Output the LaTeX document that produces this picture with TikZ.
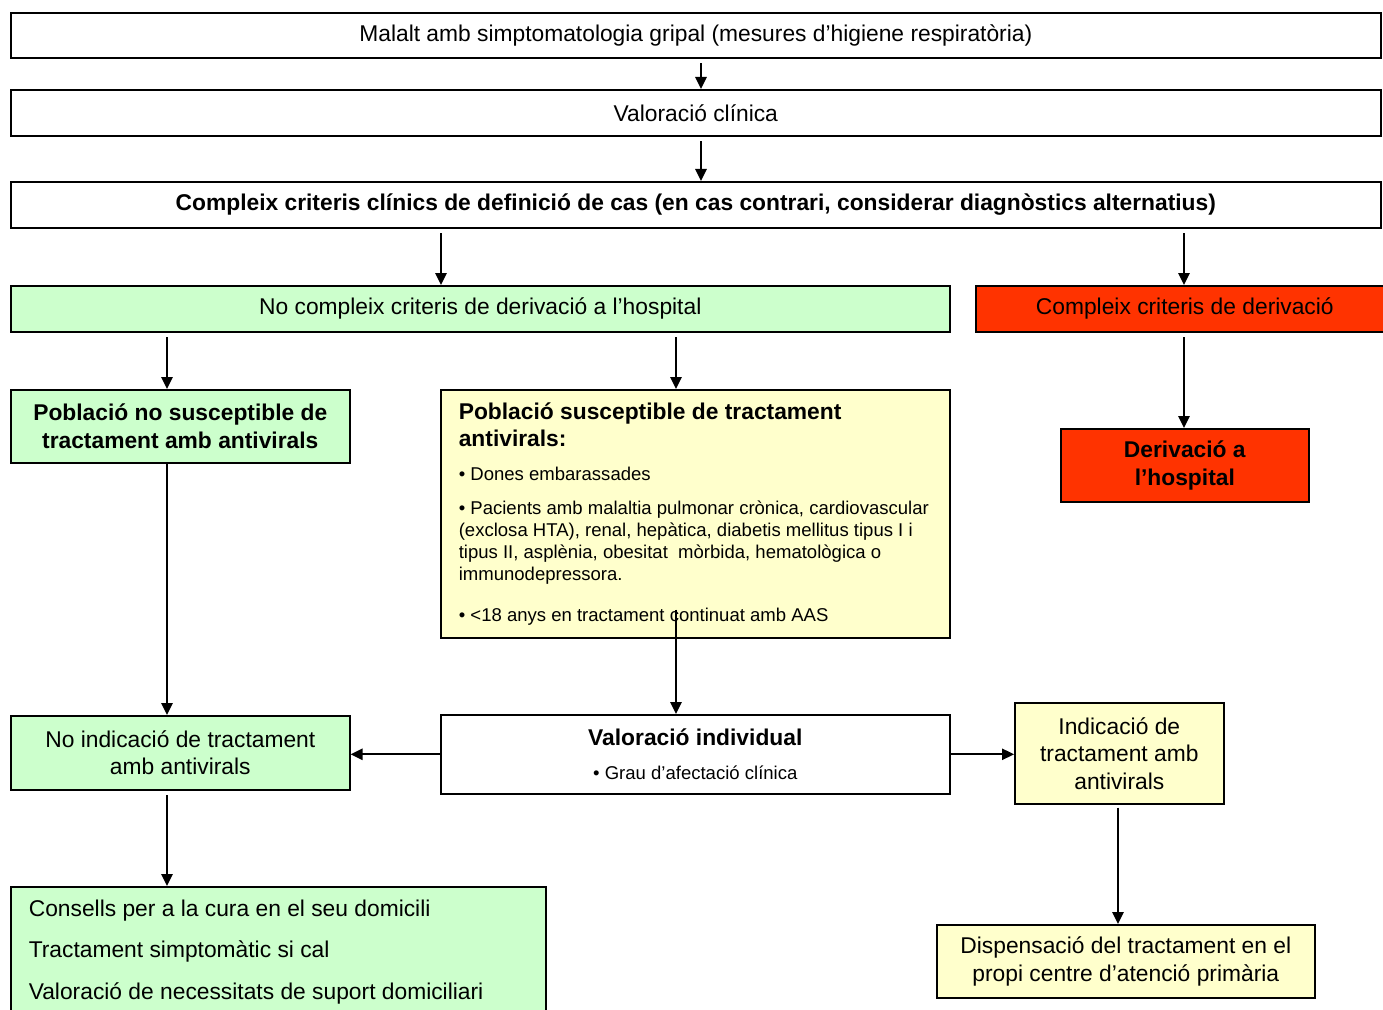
\documentclass[tikz,border=0pt]{standalone}
\usepackage{fontspec}
\setmainfont{Liberation Sans}
\usetikzlibrary{arrows.meta}
\definecolor{lgreen}{HTML}{CCFFCC}
\definecolor{lyellow}{HTML}{FFFFCC}
\definecolor{lred}{HTML}{FF3300}
\newcommand{\bigf}{\fontsize{17.1}{20.6}\selectfont}
\newcommand{\smallf}{\fontsize{13.9}{16.5}\selectfont}
\begin{document}
\begin{tikzpicture}[x=0.75pt,y=-0.75pt,
 box/.style={draw=black, line width=1.2pt, anchor=north west, inner sep=0pt, align=center, font=\bigf},
 arr/.style={line width=1.3pt, -{Triangle[length=9pt,width=8.5pt]}, shorten <=3.5pt}]
\useasboundingbox (0,0) rectangle (1383,1009);
\fill[white] (0,0) rectangle (1383,1009);

\node[box, minimum width=1027.5pt, minimum height=33.75pt] (b1) at (10,12)
  {Malalt amb simptomatologia gripal (mesures d’higiene respiratòria)};
\node[box, minimum width=1027.5pt, minimum height=34.5pt] (b2) at (10,89)
  {Valoració clínica};
\node[box, minimum width=1027.5pt, minimum height=34.5pt, font=\bigf\bfseries] (b3) at (10,181)
  {Compleix criteris clínics de definició de cas (en cas contrari, considerar diagnòstics alternatius)};
\node[box, fill=lgreen, minimum width=704.25pt, minimum height=34.5pt] (b4) at (10,285)
  {No compleix criteris de derivació a l’hospital};
\node[box, fill=lred, minimum width=313.5pt, minimum height=34.5pt] (b5) at (975,285)
  {Compleix criteris de derivació};
\node[box, fill=lgreen, minimum width=254.25pt, minimum height=54.75pt, font=\bigf\bfseries] (b6) at (10,389)
  {Població no susceptible de\\tractament amb antivirals};
\node[box, fill=lyellow, minimum width=381.75pt, minimum height=186pt, text width=363.75pt, align=flush left] (b7) at (440,389)
  {\leftskip=4.5pt
   {\bfseries\fontsize{17.1}{20.25}\selectfont Població susceptible de tractament\\antivirals:\par}
   \vspace{9pt}
   {\smallf • Dones embarassades\par}
   \vspace{9pt}
   {\smallf • Pacients amb malaltia pulmonar crònica, cardiovascular\\(exclosa HTA), renal, hepàtica, diabetis mellitus tipus I i\\tipus II, asplènia, obesitat\ \ mòrbida, hematològica o\\immunodepressora.\par}
   \vspace{14.25pt}
   {\smallf • <18 anys en tractament continuat amb AAS\par}};
\node[box, fill=lred, minimum width=186pt, minimum height=54.75pt, font=\bigf\bfseries] (b8) at (1060,428)
  {Derivació a\\l’hospital};
\node[box, fill=lgreen, minimum width=254.25pt, minimum height=55.5pt] (b9) at (10,715)
  {No indicació de tractament\\amb antivirals};
\node[box, fill=white, minimum width=381.75pt, minimum height=59.25pt] (b10) at (440,714)
  {{\bfseries Valoració individual}\\[5pt]{\smallf • Grau d’afectació clínica}};
\node[box, fill=lyellow, minimum width=156.75pt, minimum height=75.75pt] (b11) at (1014,702)
  {Indicació de\\tractament amb\\antivirals};
\node[box, fill=lgreen, minimum width=401.25pt, minimum height=97.5pt, text width=374.25pt, align=flush left,
  font=\fontsize{17.1}{31}\selectfont] (b12) at (10,886)
  {Consells per a la cura en el seu domicili\\Tractament simptomàtic si cal\\Valoració de necessitats de suport domiciliari};
\node[box, fill=lyellow, minimum width=283.5pt, minimum height=54.75pt] (b13) at (936,924)
  {Dispensació del tractament en el\\propi centre d’atenció primària};

\coordinate (xa) at (701,0);
\coordinate (xb) at (441,0);
\coordinate (xc) at (1184,0);
\coordinate (xd) at (167,0);
\coordinate (xe) at (676,0);
\coordinate (xf) at (1118,0);

\draw[arr] (b1.south -| xa) -- (b2.north -| xa);
\draw[arr] (b2.south -| xa) -- (b3.north -| xa);
\draw[arr] (b3.south -| xb) -- (b4.north -| xb);
\draw[arr] (b3.south -| xc) -- (b5.north -| xc);
\draw[arr] (b4.south -| xd) -- (b6.north -| xd);
\draw[arr] (b4.south -| xe) -- (b7.north -| xe);
\draw[arr] (b5.south -| xc) -- (b8.north -| xc);
\draw[arr, shorten <=0pt] (b6.south -| xd) -- (b9.north -| xd);
\draw[arr, shorten <=-21.75pt] (b7.south -| xe) -- (b10.north -| xe);
\draw[arr, shorten <=0pt] (b10.west) -- (b9.east |- b10.west);
\draw[arr, shorten <=0pt] (b10.east) -- (b11.west |- b10.east);
\draw[arr] (b9.south -| xd) -- (b12.north -| xd);
\draw[arr, shorten <=2.25pt] (b11.south -| xf) -- (b13.north -| xf);
\end{tikzpicture}
\end{document}
